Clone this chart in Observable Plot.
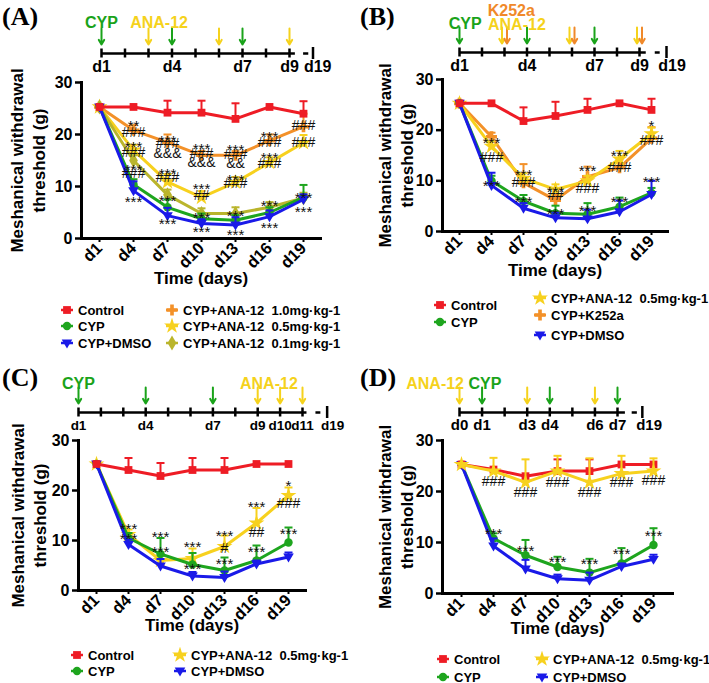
<!DOCTYPE html>
<html><head><meta charset="utf-8">
<script src="https://cdn.jsdelivr.net/npm/d3@7"></script>
<script src="https://cdn.jsdelivr.net/npm/@observablehq/plot@0.6"></script>
<style>
body{margin:0;background:#fff;}
#fig{position:relative;width:709px;height:683px;overflow:hidden;font-family:"Liberation Sans",Arial,sans-serif;background:#fff;}
.abs{position:absolute;}
.plabel{position:absolute;font-family:"Liberation Serif","DejaVu Serif",serif;font-weight:bold;font-size:26px;line-height:28px;}
.leg{position:absolute;display:flex;align-items:center;height:16px;font-weight:bold;font-size:13px;white-space:pre;color:#000;}
.leg svg{margin-right:3px;}
</style></head><body><div id="fig"></div>
<script>
// ---------------- DATA ----------------
const days = ["d1","d4","d7","d10","d13","d16","d19"];

// Panel A
const aControl = [25.3, 25.3, 24.2, 24.2, 23.0, 25.3, 24.0];
const aControlErr = [0, 0, 2.3, 2.3, 3.0, 0, 2.4];
const aAna10 = [25.3, 20.8, 18.5, 16.0, 16.0, 18.8, 21.5];
const aAna10Err = [0, 1.0, 1.5, 0.8, 0.8, 1.2, 2.5];
const aAna05 = [25.3, 17.0, 10.9, 7.9, 10.8, 14.6, 18.4];
const aAna05Err = [0, 1.0, 1.5, 1.2, 1.0, 1.0, 1.5];
const aAna01 = [25.3, 15.0, 8.4, 4.8, 4.8, 6.0, 7.8];
const aAna01Err = [0, 1.0, 1.0, 1.0, 1.2, 1.0, 1.0];
const aCyp = [25.3, 10.4, 6.0, 3.8, 3.5, 5.0, 7.9];
const aCypErr = [0, 1.0, 1.5, 1.0, 1.0, 1.0, 2.4];
const aDmso = [25.3, 9.2, 4.4, 2.9, 2.6, 4.2, 7.5];
const aDmsoErr = [0, 1.8, 1.5, 0.8, 1.5, 1.2, 1.0];
const annA = [
  {day:"d4", v:22.3, t:"**"}, {day:"d4", v:20.4, t:"###"}, {day:"d4", v:18.3, t:"***"}, {day:"d4", v:16.5, t:"###"},
  {day:"d4", v:14.0, t:"***"}, {day:"d4", v:12.5, t:"###"}, {day:"d4", v:7.7, t:"***"},
  {day:"d7", v:19.4, t:"***"}, {day:"d7", v:18.3, t:"###"}, {day:"d7", v:16.3, t:"&&&"}, {day:"d7", v:13.1, t:"***"},
  {day:"d7", v:11.7, t:"###"}, {day:"d7", v:7.9, t:"***"}, {day:"d7", v:3.5, t:"***"},
  {day:"d10", v:17.9, t:"***"}, {day:"d10", v:16.4, t:"###"}, {day:"d10", v:14.6, t:"&&&"}, {day:"d10", v:10.2, t:"***"},
  {day:"d10", v:8.3, t:"##"}, {day:"d10", v:4.6, t:"***"}, {day:"d10", v:1.9, t:"***"},
  {day:"d13", v:17.7, t:"***"}, {day:"d13", v:16.2, t:"###"}, {day:"d13", v:14.5, t:"&&"}, {day:"d13", v:11.9, t:"***"},
  {day:"d13", v:10.6, t:"###"}, {day:"d13", v:5.0, t:"***"}, {day:"d13", v:1.5, t:"***"},
  {day:"d16", v:20.2, t:"***"}, {day:"d16", v:18.5, t:"###"}, {day:"d16", v:16.3, t:"***"}, {day:"d16", v:14.5, t:"###"},
  {day:"d16", v:6.9, t:"***"}, {day:"d16", v:2.8, t:"***"},
  {day:"d19", v:21.7, t:"###"}, {day:"d19", v:18.5, t:"###"}, {day:"d19", v:8.6, t:"***"}, {day:"d19", v:5.8, t:"***"}
];

// Panel B
const bControl = [25.3, 25.3, 21.8, 22.8, 24.0, 25.3, 24.0];
const bControlErr = [0, 0, 2.7, 2.8, 2.2, 0, 2.2];
const bAna05 = [25.3, 16.8, 10.5, 8.3, 10.0, 14.3, 19.3];
const bAna05Err = [0, 1.0, 1.0, 1.0, 1.0, 1.6, 1.2];
const bK252a = [25.3, 18.7, 9.6, 6.2, 10.8, 12.6, 18.4];
const bK252aErr = [0, 0.8, 3.7, 1.0, 2.0, 1.6, 2.2];
const bCyp = [25.3, 10.0, 6.0, 3.6, 3.4, 4.9, 7.6];
const bCypErr = [0, 1.0, 1.2, 1.5, 2.2, 1.8, 1.0];
const bDmso = [25.3, 9.1, 4.6, 2.7, 2.5, 3.9, 7.3];
const bDmsoErr = [0, 2.5, 1.0, 1.0, 1.8, 2.2, 2.7];
const annB = [
  {day:"d4", v:18.3, t:"***"}, {day:"d4", v:14.6, t:"###"}, {day:"d4", v:9.7, t:"***"},
  {day:"d7", v:12.0, t:"***"}, {day:"d7", v:9.7, t:"###"}, {day:"d7", v:6.5, t:"***"},
  {day:"d10", v:8.5, t:"***"}, {day:"d10", v:7.1, t:"##"}, {day:"d10", v:4.3, t:"***"},
  {day:"d13", v:12.6, t:"***"}, {day:"d13", v:8.5, t:"###"}, {day:"d13", v:4.7, t:"***"},
  {day:"d16", v:15.6, t:"***"}, {day:"d16", v:12.6, t:"###"}, {day:"d16", v:6.5, t:"***"},
  {day:"d19", v:21.5, t:"*"}, {day:"d19", v:17.9, t:"###"}, {day:"d19", v:10.5, t:"***"}
];

// Panel C
const cControl = [25.3, 24.1, 22.9, 24.1, 24.1, 25.3, 25.3];
const cControlErr = [0, 2.4, 2.6, 2.4, 2.4, 0, 0];
const cAna05 = [25.3, 11.2, 6.0, 6.4, 8.8, 13.5, 19.0];
const cAna05Err = [0, 1.0, 1.0, 2.0, 2.2, 3.0, 1.6];
const cCyp = [25.3, 10.5, 7.3, 5.2, 4.0, 6.0, 9.6];
const cCypErr = [0, 1.0, 3.2, 2.3, 2.6, 3.0, 3.0];
const cDmso = [25.3, 9.2, 4.9, 2.9, 2.6, 5.3, 6.7];
const cDmsoErr = [0, 1.0, 1.4, 0.8, 1.2, 0.7, 0.9];
const annC = [
  {day:"d4", v:13.0, t:"***"}, {day:"d4", v:11.0, t:"***"},
  {day:"d7", v:11.4, t:"***"}, {day:"d7", v:8.4, t:"***"},
  {day:"d10", v:9.4, t:"***"}, {day:"d10", v:5.0, t:"***"},
  {day:"d13", v:11.6, t:"***"}, {day:"d13", v:8.4, t:"#"}, {day:"d13", v:6.0, t:"***"},
  {day:"d16", v:17.4, t:"***"}, {day:"d16", v:11.6, t:"##"}, {day:"d16", v:8.4, t:"***"},
  {day:"d19", v:21.6, t:"*"}, {day:"d19", v:17.4, t:"###"}, {day:"d19", v:12.0, t:"***"}
];

// Panel D
const dControl = [25.3, 24.3, 23.0, 24.0, 24.0, 25.3, 25.3];
const dControlErr = [0, 0, 0, 2.3, 2.3, 0, 0];
const dAna05 = [25.3, 24.0, 21.8, 24.0, 21.8, 23.5, 24.0];
const dAna05Err = [0, 2.6, 4.5, 3.0, 4.7, 3.5, 2.5];
const dCyp = [25.3, 10.8, 7.5, 5.2, 4.1, 5.9, 9.5];
const dCypErr = [0, 1.0, 3.0, 2.0, 2.7, 3.0, 3.3];
const dDmso = [25.3, 9.3, 4.8, 2.9, 2.6, 5.3, 6.7];
const dDmsoErr = [0, 1.5, 1.8, 0.8, 1.5, 0.6, 0.9];
const annD = [
  {day:"d4", v:22.0, t:"###"}, {day:"d4", v:12.5, t:"***"},
  {day:"d7", v:19.8, t:"###"}, {day:"d7", v:9.1, t:"***"},
  {day:"d10", v:21.8, t:"###"}, {day:"d10", v:6.9, t:"***"},
  {day:"d13", v:19.8, t:"###"}, {day:"d13", v:6.5, t:"***"},
  {day:"d16", v:21.8, t:"###"}, {day:"d16", v:8.5, t:"***"},
  {day:"d19", v:22.2, t:"###"}, {day:"d19", v:12.1, t:"***"}
];

// Timelines (schedule of injections)
const tlA = {ticks:[1,2,3,4,5,6,7,8,9], labels:["d1","d4","d7","d9"], cyp:[1,4,7], ana:[3,6,9]};
const tlB = {ticks:[1,2,3,4,5,6,7,8,9], labels:["d1","d4","d7","d9"], cyp:[1,4,7], ana:[3,6,9], k252a:[3,6,9]};
const tlC = {ticks:[1,2,3,4,5,6,7,8,9,10,11], labels:["d1","d4","d7","d9","d10","d11"], cyp:[1,4,7], ana:[9,10,11]};
const tlD = {ticks:[0,1,2,3,4,5,6,7], labels:["d0","d1","d3","d4","d6","d7"], cyp:[1,4,7], ana:[0,3,6]};

// ---------------- STYLE ----------------
const COL = {red:"#ee1c25", green:"#1ea51e", blue:"#1a1ae8", yellow:"#f7d11e", orange:"#f39129", olive:"#bab52c", tlGreen:"#1aa31a", tlYellow:"#f5d21c", tlOrange:"#f0892a"};
const FONT = '"Liberation Sans", Arial, sans-serif';
const capSymbol = {draw(ctx, size){ const w = Math.sqrt(size/Math.PI); ctx.moveTo(-w,0); ctx.lineTo(w,0);} };
const triDown = {draw(ctx, size){ const r = Math.sqrt(size/Math.PI); ctx.moveTo(-r*1.15,-r*0.75); ctx.lineTo(r*1.15,-r*0.75); ctx.lineTo(0,r*1.2); ctx.closePath(); }};

const S = {
  control:{label:"Control", color:COL.red, symbol:d3.symbolSquare, r:4.4},
  cyp:{label:"CYP", color:COL.green, symbol:d3.symbolCircle, r:4.2},
  dmso:{label:"CYP+DMSO", color:COL.blue, symbol:triDown, r:4.6},
  ana10:{label:"CYP+ANA-12  1.0mg·kg-1", color:COL.orange, symbol:d3.symbolCross, r:4.6},
  ana05:{label:"CYP+ANA-12  0.5mg·kg-1", color:COL.yellow, symbol:d3.symbolStar, r:5},
  ana01:{label:"CYP+ANA-12  0.1mg·kg-1", color:COL.olive, symbol:d3.symbolDiamond, r:4.6},
  k252a:{label:"CYP+K252a", color:COL.orange, symbol:d3.symbolCross, r:4.6}
};

const fig = document.getElementById("fig");
function place(el, left, top){ const d = document.createElement("div"); d.className="abs"; d.style.left=left+"px"; d.style.top=top+"px"; d.appendChild(el); fig.appendChild(d); }

function mainChart(L, series, ann){
  const marks = [];
  for (const [key, values, err] of series){
    const s = S[key];
    const r = values.map((v,i)=>({day:days[i], v, e:err[i]}));
    const re = r.filter(d=>d.e>0);
    marks.push(
      Plot.ruleX(re, {x:"day", y1:"v", y2:d=>d.v+d.e, stroke:s.color, strokeWidth:2}),
      Plot.dot(re, {x:"day", y:d=>d.v+d.e, symbol:capSymbol, r:4, stroke:s.color, strokeWidth:2, fill:"none"}),
      Plot.line(r, {x:"day", y:"v", stroke:s.color, strokeWidth:3}),
      Plot.dot(r, {x:"day", y:"v", symbol:s.symbol, r:s.r, fill:s.color, stroke:"none"})
    );
  }
  const stars = ann.filter(d=>d.t.includes("*"));
  const other = ann.filter(d=>!d.t.includes("*"));
  marks.push(
    Plot.text(stars, {x:"day", y:"v", text:"t", fontSize:15, dy:4, fill:"#111"}),
    Plot.text(other, {x:"day", y:"v", text:"t", fontSize:14, fill:"#111"}),
    Plot.axisY({ticks:[0,10,20,30], tickSize:6, tickPadding:3, strokeWidth:2.5, fontSize:16, fontWeight:"bold", label:null}),
    Plot.axisX({tickRotate:-45, tickSize:4, tickPadding:3, strokeWidth:2, fontSize:16.5, fontWeight:"bold", label:null}),
    Plot.frame({anchor:"left", strokeWidth:3}),
    Plot.frame({anchor:"bottom", strokeWidth:3}),
    Plot.text(["Time (days)"], {text:d=>d, frameAnchor:"bottom", dy:L.timeDy, fontSize:17, fontWeight:"bold"}),
    Plot.text(["Meshanical withdrawal\nthreshold (g)"], {text:d=>d, frameAnchor:"left", textAnchor:"middle", lineAnchor:"middle", rotate:-90, dx:L.titleDx, fontSize:17, fontWeight:"bold", lineHeight:1.3})
  );
  return Plot.plot({
    width:L.width, height:L.height, marginTop:L.mt, marginLeft:L.ml, marginRight:L.mr, marginBottom:L.mb,
    x:{type:"point", domain:days, padding:0.5},
    y:{domain:[0,30]},
    style:{fontFamily:FONT, color:"#000", background:"transparent", overflow:"visible"},
    marks
  });
}

function timelineChart(T, tl){
  const H = T.height;
  const labelData = tl.labels.map(l=>({x:+l.slice(1), t:l})).concat([{x:T.d19label, t:"d19"}]);
  const marks = [
    Plot.ruleY([0], {x1:()=>T.domain[0], x2:()=>T.lineEnd, strokeWidth:2.5}),
    Plot.ruleY([0], {x1:()=>T.dash[0], x2:()=>T.dash[1], strokeWidth:2.5}),
    Plot.ruleX(tl.ticks, {x:d=>d, y1:()=>-4.5, y2:()=>4.5, strokeWidth:2.5}),
    Plot.ruleX([T.end], {x:d=>d, y1:()=>-6, y2:()=>6, strokeWidth:2.5}),
    Plot.text(labelData, {x:"x", y:()=>-13, text:"t", fontSize:T.fs, fontWeight:"bold"})
  ];
  for (const ev of T.events){
    marks.push(Plot.arrow(tl[ev.key], {x1:d=>d, x2:d=>d, y1:()=>25, y2:()=>9, dx:ev.dx||0, stroke:ev.color, strokeWidth:2, headLength:6, headAngle:60}));
  }
  for (const g of T.groups){
    marks.push(Plot.text([g], {x:d=>d.at, y:d=>d.up, text:d=>d.text, fill:g.color, textAnchor:g.anchor||"middle", fontSize:16, fontWeight:"bold"}));
  }
  return Plot.plot({
    width:T.width, height:H, margin:0,
    x:{domain:T.domain, range:T.range, axis:null},
    y:{domain:[T.lineY, T.lineY-H], range:[0,H], axis:null},
    style:{fontFamily:FONT, color:"#000", background:"transparent", overflow:"visible"},
    marks
  });
}

function legend(items){
  for (const [key, x, y] of items){
    const s = S[key];
    const d = document.createElement("div"); d.className="leg";
    d.style.left=(x-8)+"px"; d.style.top=(y-8)+"px";
    const svg = d3.create("svg").attr("width",16).attr("height",16);
    svg.append("line").attr("x1",2).attr("x2",14).attr("y1",8).attr("y2",8).attr("stroke",s.color).attr("stroke-width",2.5);
    svg.append("path").attr("transform","translate(8,8)").attr("d", d3.symbol().type(s.symbol).size(Math.PI*s.r*s.r)()).attr("fill",s.color);
    d.appendChild(svg.node());
    d.appendChild(document.createTextNode(s.label));
    fig.appendChild(d);
  }
}
function panelLabel(t, left, top){ const d=document.createElement("div"); d.className="plabel"; d.textContent=t; d.style.left=left+"px"; d.style.top=top+"px"; fig.appendChild(d); }

// ---------------- PANEL A ----------------
panelLabel("(A)", 2, 3);
place(timelineChart({width:355, height:75, lineY:53, domain:[1,9], range:[101,289], lineEnd:9.25, dash:[9.6,9.82], end:10.0, d19label:10.2, fs:16,
  events:[{key:"cyp", color:COL.tlGreen},{key:"ana", color:COL.tlYellow}],
  groups:[{text:"CYP", at:1, up:31, color:COL.tlGreen},{text:"ANA-12", at:3.45, up:31, color:COL.tlYellow}]}, tlA), 0, 0);
place(mainChart({width:355, height:220, mt:12, ml:81, mr:35, mb:52, timeDy:45, titleDx:-55},
  [["ana10", aAna10, aAna10Err],["ana05", aAna05, aAna05Err],["ana01", aAna01, aAna01Err],["cyp", aCyp, aCypErr],["dmso", aDmso, aDmsoErr],["control", aControl, aControlErr]], annA), 0, 70);
legend([["control",67,310],["cyp",67,326],["dmso",67,343],["ana10",172,310],["ana05",172,326],["ana01",172,343]]);

// ---------------- PANEL B ----------------
panelLabel("(B)", 360, 3);
place(timelineChart({width:354, height:75, lineY:52, domain:[1,9], range:[104,284], lineEnd:9.3, dash:[9.7,9.92], end:10.2, d19label:10.45, fs:16,
  events:[{key:"cyp", color:COL.tlGreen},{key:"ana", color:COL.tlYellow, dx:-2.5},{key:"k252a", color:COL.tlOrange, dx:2.5}],
  groups:[{text:"CYP", at:1.25, up:29, color:COL.tlGreen},{text:"ANA-12", at:3.55, up:28, color:COL.tlYellow},{text:"K252a", at:3.3, up:42, color:COL.tlOrange}]}, tlB), 355, 0);
place(mainChart({width:354, height:216, mt:12, ml:87, mr:42, mb:52, timeDy:44, titleDx:-48},
  [["k252a", bK252a, bK252aErr],["ana05", bAna05, bAna05Err],["cyp", bCyp, bCypErr],["dmso", bDmso, bDmsoErr],["control", bControl, bControlErr]], annB), 355, 67);
legend([["control",440,305],["cyp",440,322],["ana05",540,298],["k252a",540,315],["dmso",540,335]]);

// ---------------- PANEL C ----------------
panelLabel("(C)", 2, 364);
place(timelineChart({width:355, height:85, lineY:57, domain:[1,11], range:[78,302], lineEnd:11.2, dash:[11.6,11.82], end:12.1, d19label:12.35, fs:13.5,
  events:[{key:"cyp", color:COL.tlGreen},{key:"ana", color:COL.tlYellow}],
  groups:[{text:"CYP", at:1, up:29, color:COL.tlGreen},{text:"ANA-12", at:9.5, up:29, color:COL.tlYellow}]}, tlC), 0, 355);
place(mainChart({width:355, height:217, mt:12, ml:78, mr:50, mb:55, timeDy:40, titleDx:-51},
  [["ana05", cAna05, cAna05Err],["cyp", cCyp, cCypErr],["dmso", cDmso, cDmsoErr],["control", cControl, cControlErr]], annC), 0, 428);
legend([["control",77,655],["cyp",77,671],["ana05",180,655],["dmso",180,671]]);

// ---------------- PANEL D ----------------
panelLabel("(D)", 360, 364);
place(timelineChart({width:354, height:85, lineY:57, domain:[0,7], range:[104,262], lineEnd:7.35, dash:[7.65,7.88], end:8.1, d19label:8.4, fs:15,
  events:[{key:"ana", color:COL.tlYellow},{key:"cyp", color:COL.tlGreen}],
  groups:[{text:"ANA-12", at:0.2, up:29, color:COL.tlYellow, anchor:"end"},{text:"CYP", at:0.4, up:29, color:COL.tlGreen, anchor:"start"}]}, tlD), 355, 355);
place(mainChart({width:354, height:220, mt:12, ml:87, mr:37, mb:55, timeDy:40, titleDx:-48},
  [["cyp", dCyp, dCypErr],["dmso", dDmso, dDmsoErr],["control", dControl, dControlErr],["ana05", dAna05, dAna05Err]], annD), 355, 428);
legend([["control",443,659],["cyp",443,677],["ana05",542,659],["dmso",542,677]]);
</script></body></html>
